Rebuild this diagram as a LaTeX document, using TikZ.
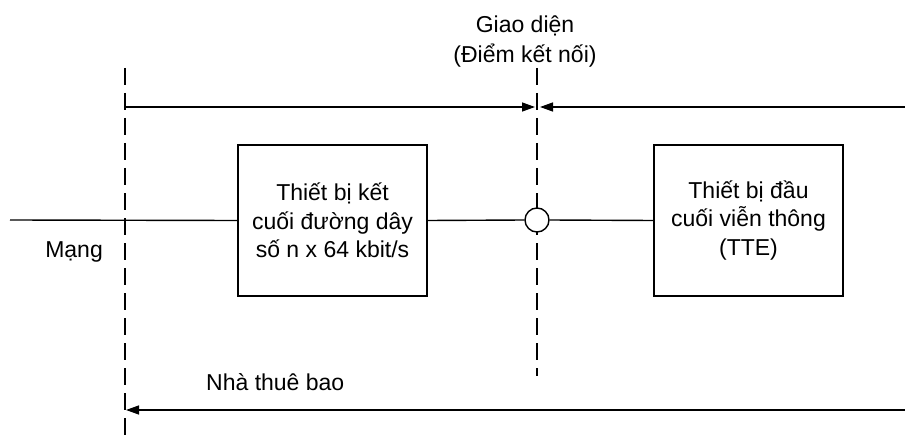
\documentclass[tikz,border=0pt]{standalone}
\usepackage{fontspec}
\setmainfont{Liberation Sans}
\usetikzlibrary{arrows.meta,backgrounds}
\begin{document}
\begin{tikzpicture}[x=1pt,y=1pt,
  conn/.style={line width=1.4pt},
  dashline/.style={line width=1.4pt, dash pattern=on 17pt off 8pt},
  boxnode/.style={draw, line width=1.4pt, minimum width=189pt, minimum height=151pt, inner sep=0pt},
  lbl/.style={font=\fontsize{23}{28.5}\selectfont, align=center, inner sep=0pt},
  tipend/.style={-{Triangle[length=13pt,width=9pt]}}
]
\useasboundingbox (0,0) rectangle (905,-441);
\node[boxnode] (b1) at (332.5,-220.5) {};
\node[boxnode] (b2) at (748.5,-220.5) {};
\node[lbl] (t1) at (b1.center) {Thiết bị kết\\cuối đường dây\\số n x 64 kbit/s};
\node[lbl] (t2) at (b2.center) {Thiết bị đầu\\cuối viễn thông\\(TTE)};
\node[draw, fill=white, circle, line width=1.4pt, minimum size=24pt, inner sep=0pt] (c) at (537,-220) {};
\coordinate (lin) at (10,-220);
\coordinate (dlt) at (125,-68);
\coordinate (dlb) at (125,-440);
\coordinate (dmt) at (537,-68);
\coordinate (dmb) at (537,-376);
\coordinate (tl) at (125,-107);
\coordinate (tm1) at (535,-107);
\coordinate (tm2) at (540,-107);
\coordinate (tr) at (905,-107);
\coordinate (br) at (905,-410);
\coordinate (bl) at (126,-410);
\begin{scope}[on background layer]
\draw[dashline] (dlt) -- (dlb);
\draw[dashline] (dmt) -- (dmb);
\end{scope}
\draw[conn] (lin) -- (b1.west);
\draw[conn] (b1.east) -- (c.west);
\draw[conn] (c.east) -- (b2.west);
\draw[conn, tipend] (tl) -- (tm1);
\draw[conn, tipend] (tr) -- (tm2);
\draw[conn, tipend] (br) -- (bl);
\node[lbl, anchor=base east] (mang) at (103,-257) {Mạng};
\node[lbl, anchor=base west] (nha) at (206,-390) {Nhà thuê bao};
\node[lbl, anchor=base] (gd1) at (525,-33) {Giao diện};
\node[lbl, anchor=base] (gd2) at (525,-63) {(Điểm kết nối)};
\end{tikzpicture}
\end{document}
